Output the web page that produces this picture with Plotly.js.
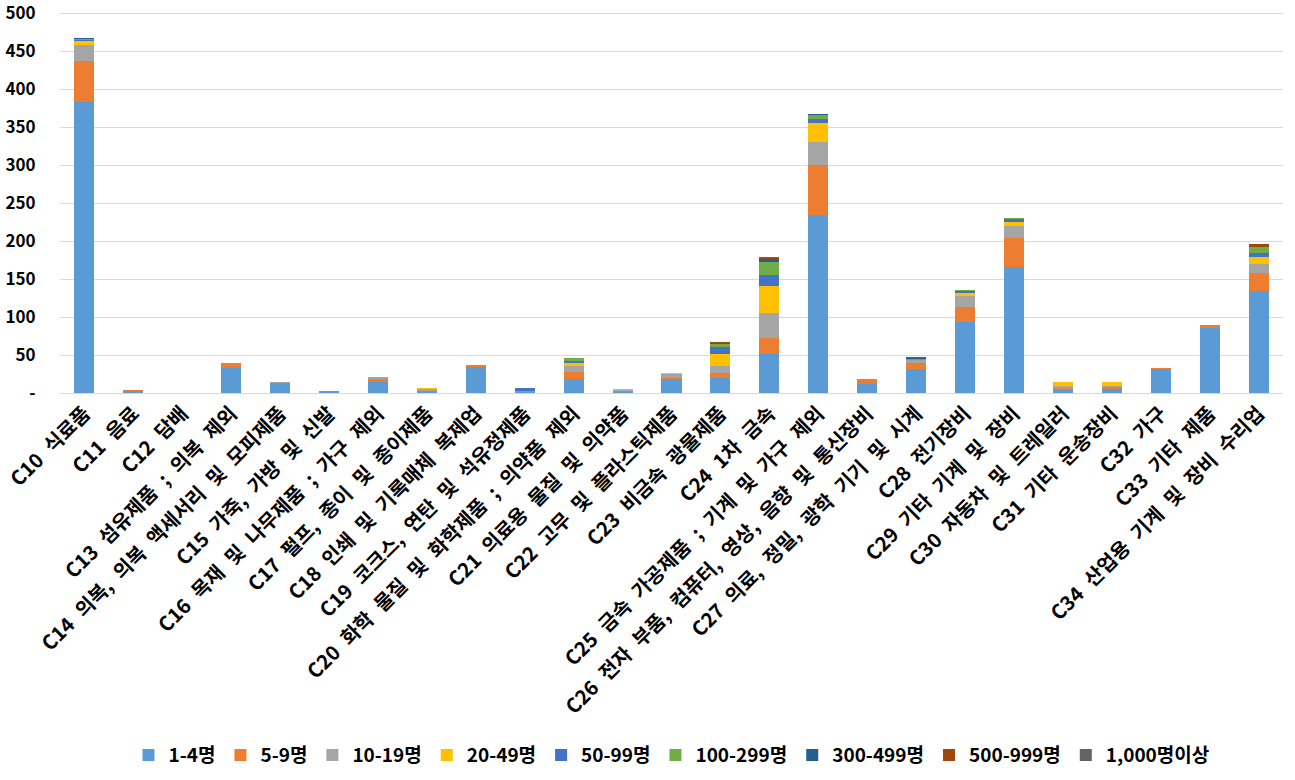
<!DOCTYPE html>
<html>
<head>
<meta charset="utf-8">
<script src="https://cdn.plot.ly/plotly-3.0.1.min.js"></script>
<style>
html,body{margin:0;padding:0;background:#fff;}
#chart{width:1295px;height:780px;}
#chart .xtick text{word-spacing:6px;}
</style>
</head>
<body>
<div id="chart"></div>
<script>
const categories = ['C10 식료품','C11 음료','C12 담배','C13 섬유제품 ; 의복 제외','C14 의복, 의복 액세서리 및 모피제품','C15 가죽, 가방 및 신발','C16 목재 및 나무제품 ; 가구 제외','C17 펄프, 종이 및 종이제품','C18 인쇄 및 기록매체 복제업','C19 코크스, 연탄 및 석유정제품','C20 화학 물질 및 화학제품 ; 의약품 제외','C21 의료용 물질 및 의약품','C22 고무 및 플라스틱제품','C23 비금속 광물제품','C24 1차 금속','C25 금속 가공제품 ; 기계 및 가구 제외','C26 전자 부품, 컴퓨터, 영상, 음향 및 통신장비','C27 의료, 정밀, 광학 기기 및 시계','C28 전기장비','C29 기타 기계 및 장비','C30 자동차 및 트레일러','C31 기타 운송장비','C32 가구','C33 기타 제품','C34 산업용 기계 및 장비 수리업'];

const seriesNames = ['1-4명','5-9명','10-19명','20-49명','50-99명','100-299명','300-499명','500-999명','1,000명이상'];
const seriesColors = ['#5B9BD5','#ED7D31','#A5A5A5','#FFC000','#4472C4','#70AD47','#255E91','#9E480E','#636363'];

const s1_4     = [383,2,0,33,13,3,15,2,34,1,18,1,18,20,52,234,12,31,94,166,4,5,31,86,134];
const s5_9     = [54,2,0,6,0,0,3,1,3,1,10,1,2,6,20,66,6,9,19,38,3,3,2,3,24];
const s10_19   = [21,0,0,0,2,0,3,2,0,0,7,2,5,9,33,30,0,3,15,16,2,1,0,0,12];
const s20_49   = [5,0,0,0,0,0,0,2,0,1,4,1,1,16,36,26,1,1,4,5,5,5,0,0,9];
const s50_99   = [2,0,0,0,0,0,0,0,0,3,3,0,0,10,14,5,0,0,2,4,0,0,0,0,5];
const s100_299 = [1,0,0,0,0,0,0,0,0,0,4,0,0,3,17,5,0,1,1,2,0,0,0,0,8];
const s300_499 = [1,0,0,0,0,0,0,0,0,0,0,0,0,1,4,1,0,1,0,0,0,0,0,0,0];
const s500_999 = [0,0,0,0,0,0,0,0,0,0,0,0,0,2,2,0,0,1,0,0,0,0,0,0,4];
const s1000    = [0,0,0,0,0,0,0,0,0,0,0,0,0,0,1,0,0,0,0,0,0,0,0,0,0];

const yTickVals = [0,50,100,150,200,250,300,350,400,450,500];
const yTickText = ['-','50','100','150','200','250','300','350','400','450','500'];

const allSeries = [s1_4,s5_9,s10_19,s20_49,s50_99,s100_299,s300_499,s500_999,s1000];
const FONT = '"Noto Sans CJK KR", "Noto Sans", sans-serif';

const traces = allSeries.map((vals, i) => ({
  type: 'bar',
  name: seriesNames[i],
  x: categories,
  y: vals,
  marker: {color: seriesColors[i], line: {width: 0}}
}));

const layout = {
  width: 1295,
  height: 780,
  barmode: 'stack',
  bargap: 0.59,
  margin: {l: 60, r: 12, t: 11, b: 387, autoexpand: false},
  paper_bgcolor: '#fff',
  plot_bgcolor: '#fff',
  font: {family: FONT, size: 16, color: '#000', weight: 'bold'},
  showlegend: true,
  legend: {
    orientation: 'h',
    x: 0.5, xanchor: 'center',
    y: -0.948, yanchor: 'middle',
    font: {family: FONT, size: 19, color: '#000', weight: 'bold'},
    traceorder: 'normal',
    itemwidth: 30
  },
  xaxis: {
    type: 'category',
    tickangle: -45,
    tickfont: {family: FONT, size: 20, color: '#000', weight: 'bold'},
    showgrid: false,
    showline: true,
    linecolor: '#d9d9d9',
    linewidth: 1,
    ticks: '',
    automargin: false
  },
  yaxis: {
    range: [0, 503],
    tickvals: yTickVals,
    ticktext: yTickText,
    tickfont: {family: FONT, size: 17, color: '#000', weight: 'bold'},
    showgrid: true,
    gridcolor: '#d9d9d9',
    gridwidth: 1,
    zeroline: false,
    showline: false,
    ticks: 'outside',
    ticklen: 20,
    tickcolor: 'rgba(0,0,0,0)',
    ticklabeloverflow: 'allow',
    automargin: false
  }
};

Plotly.newPlot('chart', traces, layout, {displayModeBar: false, staticPlot: true});
</script>
</body>
</html>
